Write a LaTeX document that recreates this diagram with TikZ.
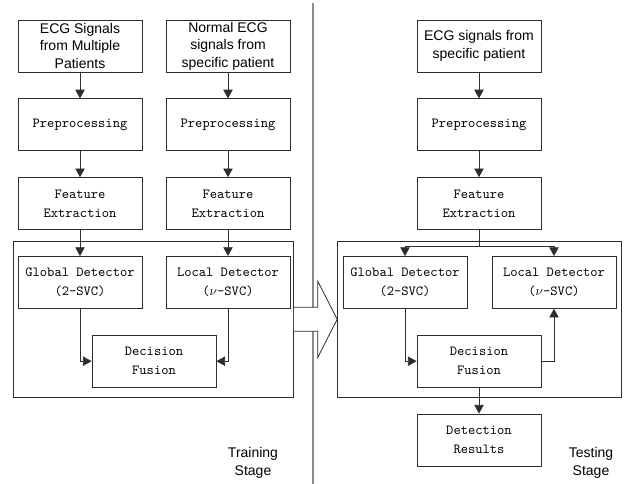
\documentclass[tikz,border=0pt]{standalone}
\usepackage{fontspec}
\setsansfont{Liberation Sans}
\usetikzlibrary{arrows.meta,positioning,fit,calc}
\definecolor{linegray}{RGB}{45,45,45}
\definecolor{sepgray}{RGB}{140,140,140}
\tikzset{
  blk/.style={rectangle, draw=linegray, line width=0.6pt, minimum width=93pt, minimum height=39pt, inner sep=1pt, align=center},
  srcblk/.style={blk, font=\sffamily\fontsize{10.5}{13.2}\selectfont},
  monoblk/.style={blk, font=\ttfamily\fontsize{10.4}{14.2}\selectfont},
  stagelbl/.style={align=center, font=\sffamily\fontsize{10.5}{13.2}\selectfont},
  frame/.style={rectangle, draw=linegray, line width=0.6pt, inner sep=0pt},
  arr/.style={-{Triangle[length=6.5pt,width=7pt]}, draw=linegray, line width=0.6pt},
  ln/.style={draw=linegray, line width=0.6pt}
}
\begin{document}
\begin{tikzpicture}[x=0.75pt, y=0.75pt, node distance=19.5pt]
  \useasboundingbox (0,0) rectangle (632,-484);
  % training stage
  \node[srcblk] (multi) at (80,-46) {ECG Signals\\from Multiple\\Patients};
  \node[srcblk] (normal) at (228,-46) {Normal ECG\\signals from\\specific patient};
  \node[monoblk, below=of multi] (pre1) {Preprocessing};
  \node[monoblk, below=of normal] (pre2) {Preprocessing};
  \node[monoblk, below=of pre1] (feat1) {Feature\\Extraction};
  \node[monoblk, below=of pre2] (feat2) {Feature\\Extraction};
  \node[monoblk, below=of feat1] (gl1) {Global Detector\\(2-SVC)};
  \node[monoblk, below=of feat2] (lc1) {Local Detector\\($\nu$-SVC)};
  \node[monoblk, below=of gl1, xshift=55.5pt] (df1) {Decision\\Fusion};
  \node[frame, fit={($(gl1.north west)+(-4,15)$) ($(lc1.east)+(3,0)$) ($(df1.south)+(0,-10)$)}] (trainbox) {};
  \node[stagelbl] (trainlbl) at (253,-463) {Training\\Stage};

  \draw[arr] (multi) -- (pre1);
  \draw[arr] (normal) -- (pre2);
  \draw[arr] (pre1) -- (feat1);
  \draw[arr] (pre2) -- (feat2);
  \draw[arr] (feat1) -- (gl1);
  \draw[arr] (feat2) -- (lc1);
  \draw[arr] (gl1.south) |- (df1.west);
  \draw[arr] (lc1.south) |- (df1.east);

  % separator
  \draw[sepgray, line width=0.9pt] (313,-3) -- (313,-484);

  % testing stage
  \node[srcblk] (spec) at (479,-46) {ECG signals from\\specific patient};
  \node[monoblk, below=of spec] (pre3) {Preprocessing};
  \node[monoblk, below=of pre3] (feat3) {Feature\\Extraction};
  \node[monoblk, below=of feat3, xshift=-55.5pt] (gl2) {Global Detector\\(2-SVC)};
  \node[monoblk, below=of feat3, xshift=56.25pt] (lc2) {Local Detector\\($\nu$-SVC)};
  \node[monoblk, below=of gl2, xshift=55.5pt] (df2) {Decision\\Fusion};
  \node[monoblk, below=of df2] (res) {Detection\\Results};
  \node[frame, fit={($(gl2.north west)+(-5,15)$) ($(lc2.east)+(5,0)$) ($(df2.south)+(0,-10)$)}] (testbox) {};
  \node[stagelbl] (testlbl) at (591,-463) {Testing\\Stage};

  \draw[arr] (spec) -- (pre3);
  \draw[arr] (pre3) -- (feat3);
  \draw[ln] (feat3.south) -- ++(0,-16) coordinate (split);
  \draw[ln] (split -| gl2) -- (split -| lc2);
  \draw[arr] (split -| gl2) -- (gl2);
  \draw[arr] (split -| lc2) -- (lc2);
  \draw[arr] (gl2.south) |- (df2.west);
  \draw[arr] (df2.east) -| (lc2.south);
  \draw[arr] (df2) -- (res);

  % hollow arrow between the stages
  \draw[ln, fill=white] ($(trainbox.east)+(0,12)$) -- ++(24,0) -- ++(0,26) -- (testbox.west)
    -- ($(trainbox.east)+(24,-38)$) -- ++(0,26) -- ($(trainbox.east)+(0,-12)$);
\end{tikzpicture}
\end{document}
